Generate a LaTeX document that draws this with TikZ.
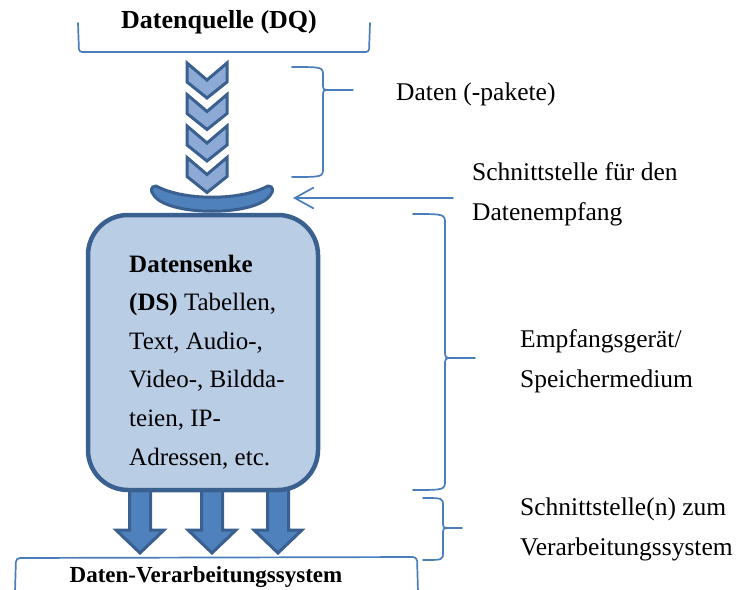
\documentclass[tikz,border=0pt]{standalone}
\usepackage{fontspec}
\setmainfont{Liberation Serif}
\usetikzlibrary{arrows.meta}
\definecolor{lineblue}{RGB}{74,126,187}
\definecolor{darkblue}{RGB}{58,96,144}
\definecolor{midblue}{RGB}{79,129,189}
\definecolor{chevfill}{RGB}{141,169,214}
\definecolor{boxfill}{RGB}{185,205,229}
\tikzset{
  thinline/.style={draw=lineblue, line width=1.7pt, line cap=round, line join=round},
  chevron/.style={draw=darkblue, fill=chevfill, line width=3pt, line join=miter},
  blockarrow/.style={draw=darkblue, fill=midblue, line width=3pt, line join=miter},
  dish/.style={draw=darkblue, fill=midblue, line width=3pt, line join=round},
  sinkbox/.style={draw=darkblue, fill=boxfill, line width=4.5pt, rounded corners=40pt},
  % multi-line labels are anchored at the baseline of their last line
  label/.style={inner sep=0pt, anchor=base west, align=left,
    font=\fontsize{25.5}{40}\selectfont},
  title/.style={inner sep=0pt, anchor=base, font=\bfseries\fontsize{26}{30}\selectfont},
}
\begin{document}
\begin{tikzpicture}[x=1pt, y=-1pt]
\useasboundingbox (0,0) rectangle (736,589);

% source bracket and title
\draw[thinline, rounded corners=3pt] (78,23) -- (79,52) -- (369,52) -- (370,23);
\node[title] (dq) at (219,28) {Datenquelle (DQ)};

% stream of data packets
\foreach \y [count=\i] in {63,94.5,126,157.5} {
  \draw[chevron] (187,\y) -- (207,\y+17) -- (227,\y) -- (227,\y+19)
    -- (207,\y+35) -- (187,\y+19) -- cycle;
}

% output arrows towards the processing system
\foreach \x in {140,212,278} {
  \draw[blockarrow] (\x-10.5,486) -- (\x-10.5,530) -- (\x-24,530) -- (\x,553)
    -- (\x+24,530) -- (\x+10.5,530) -- (\x+10.5,486);
}

% data sink
\node[sinkbox, minimum width=230pt, minimum height=275pt] (ds) at (203,352.5) {};
\node[label, font=\fontsize{25}{38.6}\selectfont] (dstext) at (129,465)
  {\textbf{Datensenke}\\\textbf{(DS)} Tabellen,\\Text, Audio-,\\Video-, Bildda-\\teien, IP-\\Adressen, etc.};

% receiving interface (dish) with blunt rounded ends
\draw[dish] (156,186) .. controls (150,186) and (151,192) .. (153,194)
  .. controls (165,217) and (259,217) .. (271,194)
  .. controls (273,192) and (274,186) .. (268,186)
  .. controls (240,201) and (184,201) .. (156,186) -- cycle;

% processing system bracket
\draw[thinline, rounded corners=4pt] (15,592) -- (16,558) -- (417,557) -- (418,592);
\node[title, font=\bfseries\fontsize{23}{26}\selectfont] (dv) at (206,582) {Daten-Verarbeitungssystem};

% brace: data packets
\draw[thinline] (292,67) .. controls (323,67) .. (323,76) -- (323,84)
  .. controls (323,90) .. (331,90) -- (353,90);
\draw[thinline] (331,90) .. controls (323,90) .. (323,96) -- (323,168)
  .. controls (323,177) .. (292,177);
\node[label] (pk) at (396,100) {Daten (-pakete)};

% arrow to the receiving interface
\node[label] (ifin) at (472,220) {Schnittstelle für den\\Datenempfang};
\coordinate (ifstart) at (453,198);
\coordinate (ifend) at (293,198);
\draw[thinline, -{Straight Barb[length=19pt,width=21pt,line width=1.7pt]}] (ifstart) -- (ifend);

% brace: receiver / storage
\draw[thinline] (413,214) .. controls (445,214) .. (445,224) -- (445,350)
  .. controls (445,358) .. (453,358) -- (475,358);
\draw[thinline] (453,358) .. controls (445,358) .. (445,366) -- (445,480)
  .. controls (445,490) .. (413,490);
\node[label] (rx) at (520,387) {Empfangsgerät/\\Speichermedium};

% brace: interfaces to processing
\draw[thinline] (423,498) .. controls (443,498) .. (443,506) -- (443,521)
  .. controls (443,528) .. (450,528) -- (462,528);
\draw[thinline] (450,528) .. controls (443,528) .. (443,535) -- (443,552)
  .. controls (443,560) .. (423,560);
\node[label] (ifout) at (520,555) {Schnittstelle(n) zum\\Verarbeitungssystem};
\end{tikzpicture}
\end{document}
